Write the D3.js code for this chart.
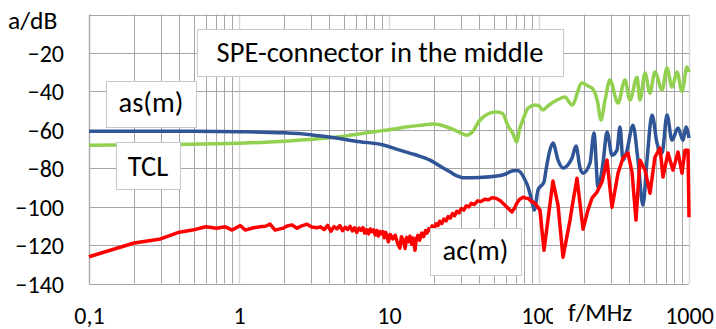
<!DOCTYPE html>
<html>
<head>
<meta charset="utf-8">
<script src="https://cdn.jsdelivr.net/npm/d3@7"></script>
<style>
  body { margin: 0; background: #fff; }
  text { font-family: Carlito, Calibri, Lato, sans-serif; fill: #000; }
</style>
</head>
<body>
<div id="chart"></div>
<script>
// tick labels
var xTicks = [0.1, 1, 10, 100, 1000];
var xTickLabels = ["0,1", "1", "10", "100", "1000"];
var yTicks = [-20, -40, -60, -80, -100, -120, -140];

// TCL (green), [f/MHz, a/dB]
var tcl = [
  [0.1, -68.0], [0.2, -67.9], [0.4, -67.6], [0.7, -67.3], [1.0, -67.0], [1.5, -66.5],
  [2.0, -66.0], [3.0, -65.0], [4.0, -64.2], [6.0, -62.4], [8.0, -61.0], [10, -60.0],
  [13, -58.6], [16, -57.7], [20, -57.0], [24, -58.4], [28, -60.5], [33, -62.8],
  [36, -61.0], [40.4, -54.9], [45, -52.0], [50.9, -50.8], [57, -51.5], [62.2, -58.0],
  [67, -62.0], [71.3, -66.4], [74, -60.0], [78, -55.0], [84.5, -48.7], [94, -47.1],
  [100, -47.5], [106, -49.7], [115, -47.5], [131.8, -44.5], [149, -43.0], [166, -47.1],
  [193.5, -35.7], [215, -37.5], [225.6, -38.3], [245, -45.0], [259, -54.9], [275, -45.0],
  [297, -34.1], [336, -46.1], [374, -34.1], [404, -44.5], [450, -32.6], [471, -44.5],
  [509, -30.5], [549, -40.9], [593, -29.9], [661, -39.3], [713, -27.9], [770, -37.8],
  [832, -29.9], [898, -40.0], [970, -27.3], [1000, -30.0]
];

// as(m) (blue)
var asm = [
  [0.1, -60.7], [0.5, -60.8], [1.0, -61.0], [2.0, -61.6], [3.0, -62.6], [4.0, -63.8],
  [6.4, -66.2], [9.0, -67.8], [11.8, -70.6], [15, -73.0], [18.8, -75.8], [22, -79.0],
  [25.5, -81.9], [28, -83.8], [31, -84.9], [40, -84.8], [52.5, -84.1], [60, -83.0],
  [67, -81.3], [72, -81.2], [76, -82.5], [80, -85.5], [84.5, -89.7], [89, -96.0],
  [93, -101.8], [98.5, -91.4], [108, -87.1], [111.4, -80.9], [117, -72.0], [123.9, -66.9],
  [133.9, -75.8], [144.5, -79.9], [160, -77.0], [166, -74.7], [176.5, -68.5], [187.7, -79.9],
  [196.6, -82.6], [218.8, -77.3], [232.6, -61.7], [247.4, -89.7], [267.2, -77.3], [284, -61.2],
  [306.7, -73.2], [331, -70.6], [346.7, -58.6], [363, -75.8], [386, -70.6], [423, -57.6],
  [457, -75.8], [493.5, -99.2], [525, -75.8], [567, -52.3], [612, -66.9], [661, -72.1],
  [713.5, -52.3], [770, -65.4], [845, -59.1], [912, -65.4], [955, -58.6], [1000, -64.3]
];

// ac(m) (red)
var acm = [
  [0.1, -126.1], [0.2, -118.9], [0.3, -116.8], [0.4, -113.3], [0.49, -112.2], [0.6, -110.5],
  [0.71, -111.2], [0.81, -110.5], [0.9, -112.2], [1.02, -109.8], [1.1, -112.2], [1.25, -111.0],
  [1.38, -110.5], [1.5, -110.2], [1.61, -109.1], [1.74, -112.2], [1.97, -111.2], [2.1, -110.0],
  [2.26, -109.6], [2.44, -111.2], [2.6, -110.1], [2.84, -109.1], [3.05, -110.6], [3.31, -111.0],
  [3.5, -110.5], [3.7, -112.0], [3.9, -109.8], [4.1, -112.8], [4.3, -110.4], [4.5, -111.6],
  [4.7, -109.9], [4.9, -112.5], [5.1, -110.8], [5.3, -111.9], [5.5, -110.2], [5.7, -112.7],
  [5.9, -111.0], [6.1, -113.4], [6.3, -111.2], [6.5, -112.3], [6.7, -110.9], [6.9, -113.8],
  [7.1, -112.0], [7.3, -114.2], [7.5, -111.6], [7.7, -113.0], [7.9, -112.1], [8.1, -114.8],
  [8.3, -112.4], [8.5, -115.3], [8.7, -112.9], [8.9, -114.1], [9.1, -113.0], [9.3, -116.2],
  [9.5, -113.4], [9.7, -115.0], [9.9, -118.3], [10.2, -114.5], [10.6, -116.8], [11.0, -114.9],
  [11.4, -119.0], [11.8, -121.6], [12.1, -115.7], [12.5, -117.8], [12.8, -121.8], [13.1, -116.0],
  [13.5, -118.2], [13.8, -115.4], [14.2, -119.6], [14.5, -116.3], [14.9, -122.7], [15.2, -116.8],
  [15.6, -114.9], [16.0, -117.5], [16.5, -113.8], [17.0, -115.6], [17.5, -112.5], [17.9, -113.8],
  [18.4, -111.6], [18.8, -112.4], [19.4, -110.0], [20.0, -111.5], [20.6, -108.9], [21.2, -109.8],
  [21.8, -107.6], [22.5, -108.8], [23.2, -106.5], [24.0, -107.4], [24.8, -105.2], [25.6, -106.0],
  [26.5, -103.6], [27.4, -104.7], [28.3, -102.4], [29.3, -103.3], [30.3, -101.0], [31.5, -101.8],
  [32.7, -99.6], [34.0, -100.2], [35.4, -98.3], [37.0, -98.9], [39.0, -97.0], [41.0, -97.4],
  [43.5, -96.1], [46.0, -96.4], [49.0, -95.3], [52.0, -95.8], [55.0, -96.8], [58.0, -98.5],
  [61.0, -100.2], [64.0, -101.8], [66.1, -102.7], [68.5, -101.0], [71.0, -98.4], [74.0, -96.3],
  [78.2, -95.1], [82.0, -95.6], [85.0, -95.8], [88.0, -97.0], [94.0, -98.2], [101.5, -101.8],
  [108, -122.7], [123.9, -86.7], [133.9, -99.2], [144.5, -126.3], [161, -107.0], [166, -100.3],
  [179.2, -85.2], [196.6, -111.7], [212, -101.8], [225.6, -95.6], [243.6, -92.4], [263, -87.2],
  [284, -75.8], [306.7, -100.3], [336.3, -82.6], [363, -74.7], [392, -72.1], [417, -82.0],
  [443, -107.0], [471, -75.8], [509, -80.9], [549.5, -93.0], [593, -74.2], [641, -69.5],
  [671, -84.6], [724, -72.1], [782, -81.0], [845, -71.6], [898, -82.6], [940, -70.6],
  [985, -70.6], [1000, -105.5]
];

var width = 716, height = 329;
var svg = d3.select("#chart").append("svg")
    .attr("width", width)
    .attr("height", height);

var xScale = d3.scaleLog().domain([0.1, 1000]).range([89, 689]);
var yScale = d3.scaleLinear().domain([-140, 0]).range([283.5, 14.5]);

// minor vertical gridlines (2..9 of each decade)
var minor = [];
[0.1, 1, 10, 100].forEach(function(d) {
    for (var k = 2; k <= 9; k++) minor.push(d * k);
});

var grid = svg.append("g").attr("class", "grid");

grid.selectAll("line.major")
    .data(xTicks)
    .enter().append("line")
    .attr("class", "major")
    .attr("x1", function(d) { return Math.round(xScale(d)) + 0.5; })
    .attr("x2", function(d) { return Math.round(xScale(d)) + 0.5; })
    .attr("y1", yScale(0))
    .attr("y2", yScale(-140))
    .style("stroke", "#d9d9d9")
    .style("stroke-width", 1.5);

grid.selectAll("line.minor")
    .data(minor)
    .enter().append("line")
    .attr("class", "minor")
    .attr("x1", function(d) { return Math.round(xScale(d)) + 0.5; })
    .attr("x2", function(d) { return Math.round(xScale(d)) + 0.5; })
    .attr("y1", yScale(0))
    .attr("y2", yScale(-140))
    .style("stroke", "#a6a6a6")
    .style("stroke-width", 1);

grid.selectAll("line.h")
    .data(d3.range(-140, 1, 20))
    .enter().append("line")
    .attr("class", "h")
    .attr("x1", xScale(0.1))
    .attr("x2", xScale(1000))
    .attr("y1", function(d) { return Math.round(yScale(d)) + 0.5; })
    .attr("y2", function(d) { return Math.round(yScale(d)) + 0.5; })
    .style("stroke", "#a6a6a6")
    .style("stroke-width", 1.2);

// left axis line
grid.append("line")
    .attr("x1", Math.round(xScale(0.1)) + 0.5)
    .attr("x2", Math.round(xScale(0.1)) + 0.5)
    .attr("y1", yScale(0))
    .attr("y2", yScale(-140))
    .style("stroke", "#a6a6a6")
    .style("stroke-width", 1.2);

// Axes (labels only)
var yAxis = d3.axisLeft(yScale).tickValues(yTicks).tickSize(0).tickPadding(0);
var gy = svg.append("g")
    .attr("transform", "translate(64,0)")
    .call(yAxis);
gy.select(".domain").remove();
gy.selectAll("text")
    .style("font-size", "24px")
    .attr("dy", "0.36em");

var xAxis = d3.axisBottom(xScale).tickValues(xTicks).tickSize(0).tickPadding(0)
    .tickFormat(function(d, i) { return xTickLabels[i]; });
var gx = svg.append("g")
    .attr("transform", "translate(0,324)")
    .call(xAxis);
gx.select(".domain").remove();
gx.selectAll("text")
    .style("font-size", "24px")
    .attr("y", 0)
    .attr("dy", 0);

// curves
function drawLine(data, color, curve) {
    svg.append("path")
        .datum(data)
        .attr("d", d3.line()
            .curve(curve)
            .x(function(d) { return xScale(d[0]); })
            .y(function(d) { return yScale(d[1]); }))
        .style("fill", "none")
        .style("stroke", color)
        .style("stroke-width", 3.5)
        .style("stroke-linejoin", "round");
}
drawLine(tcl, "#92d050", d3.curveMonotoneX);
drawLine(asm, "#2f5597", d3.curveMonotoneX);
drawLine(acm, "#ff0000", d3.curveLinear);

// annotation boxes
function box(x0, y0, x1, y1, label, size, baseline) {
    var g = svg.append("g");
    g.append("rect")
        .attr("x", x0 + 0.5).attr("y", y0 + 0.5)
        .attr("width", x1 - x0).attr("height", y1 - y0)
        .style("fill", "#fff")
        .style("stroke", "#c8c8c8")
        .style("stroke-width", 1);
    g.append("text")
        .attr("x", (x0 + x1) / 2)
        .attr("y", baseline)
        .attr("text-anchor", "middle")
        .style("font-size", size + "px")
        .text(label);
}
box(197, 29, 563, 76, "SPE-connector in the middle", 28.5, 62);
box(106, 81, 196, 127, "as(m)", 28.5, 112);
box(116, 142, 180, 189, "TCL", 28.5, 176);
box(430, 228, 521, 275, "ac(m)", 28.5, 260);

// axis titles
svg.append("text")
    .attr("x", 8).attr("y", 29)
    .style("font-size", "25.5px")
    .text("a/dB");

svg.append("rect")
    .attr("x", 553).attr("y", 298)
    .attr("width", 90).attr("height", 31)
    .style("fill", "#fff");
svg.append("text")
    .attr("x", 568).attr("y", 321)
    .style("font-size", "25px")
    .text("f/MHz");
</script>
</body>
</html>
